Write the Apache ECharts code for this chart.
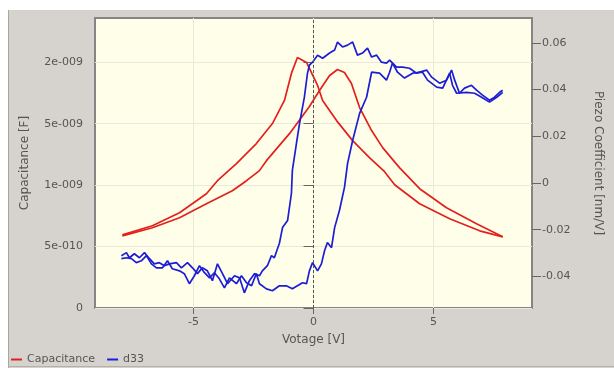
<!DOCTYPE html>
<html><head><meta charset="utf-8">
<script src="https://cdn.jsdelivr.net/npm/echarts@6/dist/echarts.min.js"></script>
<style>html,body{margin:0;padding:0;background:#fff;}#c{width:614px;height:368px;}</style>
</head><body><div id="c"></div>
<script>
// Tick values and labels
const xTickValues = [-5, 0, 5];
const xTickLabels = ['-5', '0', '5'];
const capTickValues = [0, 5e-10, 1e-9, 1.5e-9, 2e-9];
const capTickLabels = ['0', '5e-010', '1e-009', '5e-009', '2e-009'];
const d33TickValues = [-0.04, -0.02, 0, 0.02, 0.04, 0.06];
const d33TickLabels = ['-0.04', '-0.02', '0', '0.02', '0.04', '0.06'];

// Capacitance [F] vs Voltage [V], sweep -8 -> +8
const capUp = [
  [-7.96,5.87e-10],[-6.71,6.53e-10],[-5.58,7.34e-10],[-4.46,8.48e-10],[-3.38,9.54e-10],
  [-2.79,1.036e-9],[-2.25,1.118e-9],[-1.96,1.199e-9],[-1.0,1.419e-9],[-0.17,1.640e-9],
  [0.25,1.770e-9],[0.67,1.892e-9],[1.0,1.941e-9],[1.29,1.917e-9],[1.58,1.827e-9],
  [1.92,1.631e-9],[2.42,1.444e-9],[2.88,1.305e-9],[3.58,1.142e-9],[4.42,9.71e-10],
  [5.54,8.16e-10],[6.79,6.85e-10],[7.88,5.79e-10]
];
// Capacitance, sweep +8 -> -8
const capDown = [
  [7.88,5.79e-10],[6.92,6.28e-10],[5.67,7.26e-10],[4.42,8.48e-10],[3.38,1.003e-9],
  [2.96,1.109e-9],[2.33,1.224e-9],[1.63,1.362e-9],[0.96,1.525e-9],[0.38,1.689e-9],
  [0.17,1.811e-9],[-0.13,1.933e-9],[-0.29,1.998e-9],[-0.67,2.039e-9],[-0.92,1.909e-9],
  [-1.21,1.689e-9],[-1.71,1.501e-9],[-2.38,1.338e-9],[-3.21,1.175e-9],[-4.0,1.036e-9],
  [-4.46,9.30e-10],[-5.58,7.75e-10],[-6.71,6.69e-10],[-7.96,5.95e-10]
];
// d33 [nm/V], sweep -8 -> +8
const d33Up = [
  [-8.0,-0.0324],[-7.79,-0.0320],[-7.58,-0.0324],[-7.38,-0.0341],[-7.17,-0.0333],[-6.96,-0.0311],
  [-6.75,-0.0346],[-6.54,-0.0363],[-6.29,-0.0363],[-6.08,-0.0333],[-5.88,-0.0367],[-5.58,-0.0376],
  [-5.38,-0.0388],[-5.17,-0.0431],[-4.96,-0.0397],[-4.75,-0.0354],[-4.54,-0.0384],[-4.33,-0.0406],
  [-4.13,-0.0384],[-3.92,-0.0410],[-3.71,-0.0449],[-3.5,-0.0406],[-3.21,-0.0431],[-3.0,-0.0397],
  [-2.79,-0.0427],[-2.58,-0.0440],[-2.38,-0.0388],[-2.25,-0.0431],[-1.96,-0.0453],[-1.71,-0.0461],
  [-1.42,-0.0440],[-1.13,-0.0440],[-0.88,-0.0453],[-0.67,-0.0440],[-0.46,-0.0427],[-0.29,-0.0431],
  [-0.17,-0.0376],[-0.04,-0.0341],[0.17,-0.0376],[0.33,-0.0346],[0.46,-0.0290],[0.58,-0.0255],
  [0.75,-0.0277],[0.88,-0.0191],[1.08,-0.0118],[1.29,-0.0019],[1.42,0.0084],[1.63,0.0182],
  [1.92,0.0298],[2.21,0.0367],[2.42,0.0474],[2.75,0.0470],[3.04,0.0440],[3.17,0.0474],
  [3.29,0.0513],[3.5,0.0474],[3.79,0.0449],[4.13,0.0470],[4.54,0.0474],[4.75,0.0440],
  [5.13,0.0410],[5.38,0.0406],[5.67,0.0470],[5.79,0.0418],[5.96,0.0384],[6.38,0.0388],
  [6.71,0.0384],[7.0,0.0367],[7.33,0.0346],[7.63,0.0367],[7.88,0.0388]
];
// d33, sweep +8 -> -8
const d33Down = [
  [7.88,0.0397],[7.75,0.0388],[7.54,0.0367],[7.33,0.0354],[7.04,0.0376],[6.79,0.0397],
  [6.58,0.0418],[6.29,0.0406],[6.08,0.0384],[5.88,0.0440],[5.75,0.0483],[5.54,0.0440],
  [5.25,0.0427],[4.92,0.0453],[4.71,0.0483],[4.29,0.0470],[4.0,0.0491],[3.71,0.0496],
  [3.46,0.0496],[3.17,0.0526],[3.04,0.0513],[2.83,0.0517],[2.63,0.0547],[2.42,0.0539],
  [2.25,0.0577],[2.04,0.0556],[1.83,0.0547],[1.63,0.0603],[1.42,0.0590],[1.21,0.0582],
  [1.0,0.0603],[0.88,0.0569],[0.67,0.0556],[0.38,0.0534],[0.17,0.0547],[-0.04,0.0517],
  [-0.17,0.0504],[-0.25,0.0470],[-0.38,0.0367],[-0.58,0.0255],[-0.71,0.0170],[-0.88,0.0054],
  [-0.92,-0.0045],[-1.08,-0.0161],[-1.29,-0.0191],[-1.42,-0.0258],[-1.63,-0.0320],[-1.75,-0.0311],
  [-1.92,-0.0354],[-2.13,-0.0376],[-2.25,-0.0397],[-2.46,-0.0388],[-2.67,-0.0418],[-2.88,-0.0470],
  [-3.08,-0.0406],[-3.29,-0.0397],[-3.58,-0.0431],[-3.79,-0.0388],[-4.0,-0.0346],[-4.21,-0.0418],
  [-4.42,-0.0376],[-4.63,-0.0363],[-4.83,-0.0388],[-5.04,-0.0363],[-5.25,-0.0341],[-5.5,-0.0363],
  [-5.71,-0.0341],[-6.0,-0.0346],[-6.21,-0.0354],[-6.42,-0.0341],[-6.63,-0.0346],[-6.83,-0.0324],
  [-7.04,-0.0298],[-7.25,-0.0320],[-7.46,-0.0303],[-7.67,-0.0320],[-7.79,-0.0298],[-8.0,-0.0311]
];

const FONT = 'DejaVu Sans';
const TXT = '#555555';
const RED = '#e3201d';
const BLUE = '#1d1dd6';

function lookup(vals, labels, v) {
  let best = 0, bd = Infinity;
  for (let i = 0; i < vals.length; i++) {
    const d = Math.abs(vals[i] - v);
    if (d < bd) { bd = d; best = i; }
  }
  return labels[best];
}

const chart = echarts.init(document.getElementById('c'), null, {renderer: 'canvas'});
const lineSeries = (name, data, color, yIdx, extra) => Object.assign({
  name: name, type: 'line', data: data, yAxisIndex: yIdx,
  showSymbol: false, symbol: 'none', smooth: false, animation: false,
  lineStyle: {color: color, width: 1.7}, itemStyle: {color: color}, z: 3
}, extra || {});

chart.setOption({
  animation: false,
  textStyle: {fontFamily: FONT},
  graphic: [
    {type: 'rect', z: -100, silent: true, shape: {x: 8, y: 10, width: 606, height: 358}, style: {fill: '#d6d3ce'}},
    {type: 'line', z: -99, silent: true, shape: {x1: 8.5, y1: 10, x2: 8.5, y2: 368}, style: {stroke: '#aaa69e', lineWidth: 1}},
    {type: 'line', z: -99, silent: true, shape: {x1: 8, y1: 366.5, x2: 614, y2: 366.5}, style: {stroke: '#b4b0a8', lineWidth: 1}}
  ],
  grid: {
    left: 95, right: 82, top: 18, bottom: 60,
    show: true, backgroundColor: '#ffffe9', borderColor: '#858585', borderWidth: 2,
    containLabel: false
  },
  legend: {
    left: 6, top: 349, icon: 'rect', itemWidth: 11, itemHeight: 2, itemGap: 12,
    textStyle: {color: TXT, fontSize: 11, fontFamily: FONT},
    data: ['Capacitance', 'd33']
  },
  xAxis: {
    type: 'value', min: -9.1, max: 9.1,
    name: 'Votage [V]', nameLocation: 'middle', nameGap: 26,
    nameTextStyle: {color: TXT, fontSize: 12, fontFamily: FONT},
    axisLine: {show: false},
    axisTick: {show: true, length: 6, customValues: xTickValues, lineStyle: {color: '#666'}},
    axisLabel: {customValues: xTickValues, margin: 9, color: TXT, fontSize: 11, fontFamily: FONT,
      formatter: v => lookup(xTickValues, xTickLabels, v)},
    splitLine: {show: true, lineStyle: {color: '#e9e9dc', width: 1}}
  },
  yAxis: [
    {
      type: 'value', position: 'left', min: 0, max: 2.36e-9,
      name: 'Capacitance [F]', nameLocation: 'middle', nameGap: 64,
      nameTextStyle: {color: TXT, fontSize: 12, fontFamily: FONT},
      axisLine: {show: false},
      axisTick: {show: true, length: 10, customValues: capTickValues, lineStyle: {color: '#666'}},
      axisLabel: {customValues: capTickValues, margin: 12, color: TXT, fontSize: 11, fontFamily: FONT,
        padding: [0, 0, 7, 0],
        formatter: v => lookup(capTickValues, capTickLabels, v)},
      splitLine: {show: true, lineStyle: {color: '#e9e9dc', width: 1}}
    },
    {
      type: 'value', position: 'right', min: -0.0535, max: 0.0706,
      name: 'Piezo Coefficient [nm/V]', nameLocation: 'middle', nameGap: 60, nameRotate: -90,
      nameTextStyle: {color: TXT, fontSize: 12, fontFamily: FONT},
      axisLine: {show: false},
      axisTick: {show: true, length: 9, customValues: d33TickValues, lineStyle: {color: '#666'}},
      axisLabel: {customValues: d33TickValues, margin: 10, color: TXT, fontSize: 11, fontFamily: FONT,
        padding: [0, 0, 7, 0],
        formatter: v => lookup(d33TickValues, d33TickLabels, v)},
      splitLine: {show: false}
    }
  ],
  series: [
    lineSeries('Capacitance', capUp, RED, 0, {
      markLine: {silent: true, symbol: 'none', animation: false, label: {show: false},
        lineStyle: {color: '#555', type: [3, 2], width: 1}, data: [{xAxis: 0}]}
    }),
    lineSeries('Capacitance', capDown, RED, 0),
    lineSeries('d33', d33Up, BLUE, 1),
    lineSeries('d33', d33Down, BLUE, 1)
  ]
});
</script>
</body></html>
